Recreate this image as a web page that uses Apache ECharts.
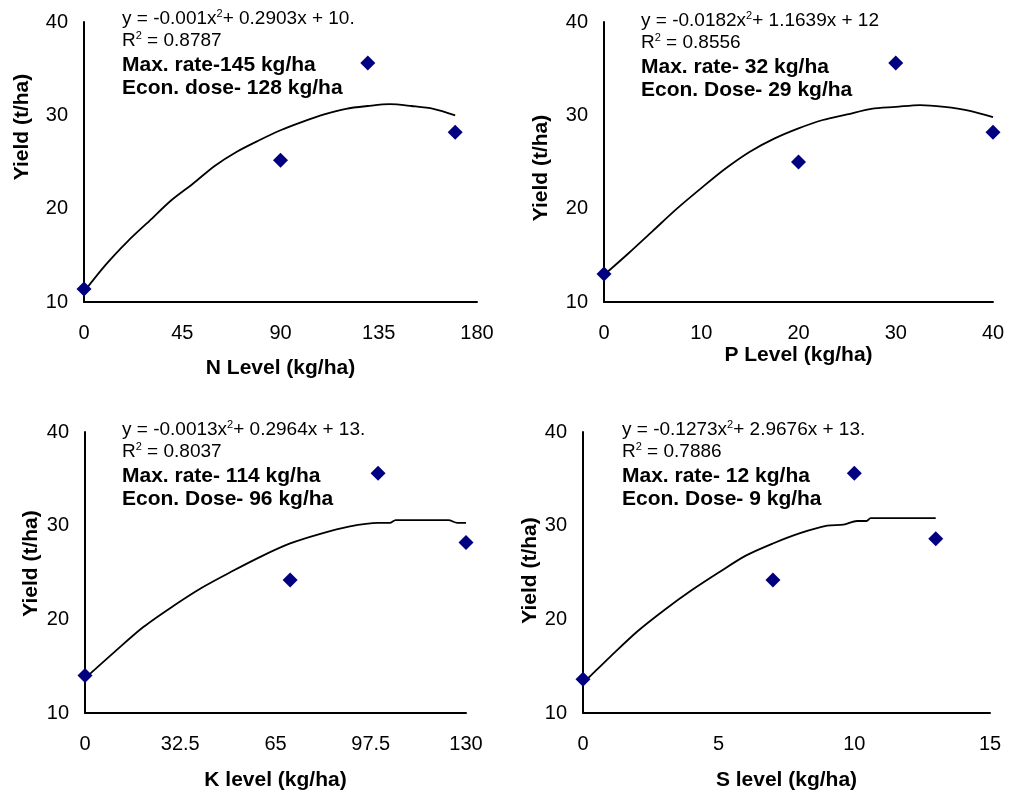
<!DOCTYPE html>
<html>
<head>
<meta charset="utf-8">
<script src="https://cdn.jsdelivr.net/npm/echarts@6/dist/echarts.min.js"></script>
<style>
  html, body { margin: 0; padding: 0; background: #fff; }
  #main { width: 1013px; height: 796px; }
</style>
</head>
<body>
<div id="main"></div>
<script>
// observed points (diamonds)
const nLevel = [0, 90, 130, 170]
const nYield = [11.4, 25.2, 35.6, 28.2]
const pLevel = [0, 20, 30, 40]
const pYield = [13.0, 25.0, 35.6, 28.2]
const kLevel = [0, 70, 100, 130]
const kYield = [14.0, 24.2, 35.6, 28.2]
const sLevel = [0, 7, 10, 13]
const sYield = [13.6, 24.2, 35.6, 28.6]

// trendline as drawn
const nFitX = [0, 10, 20, 30, 40, 50, 60, 70, 80, 90, 100, 110, 120, 130, 140, 150, 160, 170]
const nFitY = [11.1, 14.0, 16.5, 18.7, 20.9, 22.7, 24.6, 26.1, 27.3, 28.4, 29.3, 30.1, 30.7, 31.0, 31.2, 31.0, 30.7, 30.0]
const pFitX = [0, 2.5, 5, 7.5, 10, 12.5, 15, 17.5, 20, 22.5, 25, 27.5, 30, 32.5, 35, 37.5, 40]
const pFitY = [12.9, 15.2, 17.6, 20.0, 22.2, 24.3, 26.1, 27.5, 28.6, 29.5, 30.1, 30.7, 30.9, 31.1, 30.9, 30.5, 29.8]
const kFitX = [0, 10, 20, 30, 40, 50, 60, 70, 80, 90, 100, 104, 106, 124, 127, 130]
const kFitY = [13.7, 16.5, 19.2, 21.4, 23.4, 25.1, 26.7, 28.1, 29.1, 29.9, 30.3, 30.3, 30.6, 30.6, 30.3, 30.3]
const sFitX = [0, 0.5, 1, 2, 3, 4, 5, 6, 7, 8, 9, 9.6, 10.1, 10.45, 10.6, 13]
const sFitY = [13.2, 14.6, 16.0, 18.7, 21.0, 23.1, 25.0, 26.8, 28.1, 29.2, 30.0, 30.1, 30.5, 30.5, 30.8, 30.8]

// axis ticks
const nTicks = { max: 180, interval: 45 }
const pTicks = { max: 40, interval: 10 }
const kTicks = { max: 130, interval: 32.5 }
const sTicks = { max: 15, interval: 5 }
const yTicks = { min: 10, max: 40, interval: 10 }

const xNames = ['N Level (kg/ha)', 'P Level (kg/ha)', 'K level (kg/ha)', 'S level (kg/ha)']
const eqs = [
  ['-0.001', '0.2903', '10.7'],
  ['-0.0182', '1.1639', '12'],
  ['-0.0013', '0.2964', '13.'],
  ['-0.1273', '2.9676', '13.0']
]
const r2 = ['0.8787', '0.8556', '0.8037', '0.7886']
const maxRate = ['Max. rate-145 kg/ha', 'Max. rate- 32 kg/ha', 'Max. rate- 114 kg/ha', 'Max. rate- 12 kg/ha']
const econ = ['Econ. dose- 128 kg/ha', 'Econ. Dose- 29 kg/ha', 'Econ. Dose- 96 kg/ha', 'Econ. Dose- 9 kg/ha']

const FONT = 'Liberation Sans, Arial, sans-serif'

const grids = [
  { left: 84, top: 22, width: 393, height: 280 },
  { left: 604, top: 22, width: 389, height: 280 },
  { left: 85, top: 432, width: 381, height: 281 },
  { left: 583, top: 432, width: 407, height: 281 }
]
const xTicks = [nTicks, pTicks, kTicks, sTicks]
const xNameGap = [56, 43, 57, 57]
const yNameGap = [51, 52, 43, 41]
const yNameShift = [70, -12, 18, 4]
const textLeft = [122, 641, 122, 622]
const textMid = [19, 21, 430, 430]   // centre of the first annotation line
const eqWidth = [238, 248, 248, 250]

const axisLine = { show: true, onZero: false, lineStyle: { color: '#000', width: 2 } }

const myChart = echarts.init(document.getElementById('main'))

const option = {
  animation: false,
  backgroundColor: '#fff',
  grid: grids.map(g => Object.assign({ containLabel: false }, g)),
  xAxis: xTicks.map((t, i) => ({
    type: 'value', gridIndex: i, min: 0, max: t.max, interval: t.interval,
    axisLine: axisLine, axisTick: { show: false }, splitLine: { show: false },
    axisLabel: { color: '#000', fontSize: 20, fontFamily: FONT, margin: 21 },
    name: xNames[i], nameLocation: 'middle', nameGap: xNameGap[i],
    nameTextStyle: { color: '#000', fontSize: 21, fontWeight: 'bold', fontFamily: FONT }
  })),
  yAxis: grids.map((g, i) => ({
    type: 'value', gridIndex: i, min: yTicks.min, max: yTicks.max, interval: yTicks.interval,
    axisLine: axisLine, axisTick: { show: false }, splitLine: { show: false },
    axisLabel: { color: '#000', fontSize: 20, fontFamily: FONT, margin: 16 },
    name: 'Yield (t/ha)', nameLocation: 'middle', nameGap: yNameGap[i],
    nameTextStyle: {
      color: '#000', fontSize: 21, fontWeight: 'bold', fontFamily: FONT,
      padding: yNameShift[i] > 0 ? [0, 0, 0, yNameShift[i]] : [0, -yNameShift[i], 0, 0]
    }
  })),
  series: [],
  graphic: []
}

const fits = [[nFitX, nFitY], [pFitX, pFitY], [kFitX, kFitY], [sFitX, sFitY]]
const obs = [[nLevel, nYield], [pLevel, pYield], [kLevel, kYield], [sLevel, sYield]]

fits.forEach((f, i) => {
  option.series.push({
    type: 'line', xAxisIndex: i, yAxisIndex: i,
    data: f[0].map((x, j) => [x, f[1][j]]),
    showSymbol: false, smooth: 0.3,
    lineStyle: { color: '#000', width: 1.8 }, z: 2
  })
})
obs.forEach((o, i) => {
  option.series.push({
    type: 'scatter', xAxisIndex: i, yAxisIndex: i,
    data: o[0].map((x, j) => [x, o[1][j]]),
    symbol: 'diamond', symbolSize: 15, clip: false,
    itemStyle: { color: '#000080', opacity: 1 }, z: 3
  })
})

// trendline annotations
const rich = {
  n: { fontSize: 19, fontFamily: FONT, color: '#000', lineHeight: 22 },
  sup: { fontSize: 11, fontFamily: FONT, color: '#000', verticalAlign: 'top', lineHeight: 22, padding: [0, 0, 8, 0] },
  b: { fontSize: 21, fontFamily: FONT, fontWeight: 'bold', color: '#000', lineHeight: 23 }
}
eqs.forEach((e, i) => {
  option.graphic.push({
    type: 'text', left: textLeft[i], top: textMid[i] - 11, z: 10,
    style: {
      text: '{n|y = ' + e[0] + 'x}{sup|2}{n|+ ' + e[1] + 'x + ' + e[2] + '}',
      rich: rich, width: eqWidth[i], overflow: 'truncate', ellipsis: ''
    }
  })
  option.graphic.push({
    type: 'text', left: textLeft[i], top: textMid[i] + 11, z: 10,
    style: { text: '{n|R}{sup|2}{n| = ' + r2[i] + '}', rich: rich }
  })
  option.graphic.push({
    type: 'text', left: textLeft[i], top: textMid[i] + 47 - 11.5, z: 10,
    style: { text: '{b|' + maxRate[i] + '}\n{b|' + econ[i] + '}', rich: rich }
  })
})

myChart.setOption(option)
</script>
</body>
</html>
